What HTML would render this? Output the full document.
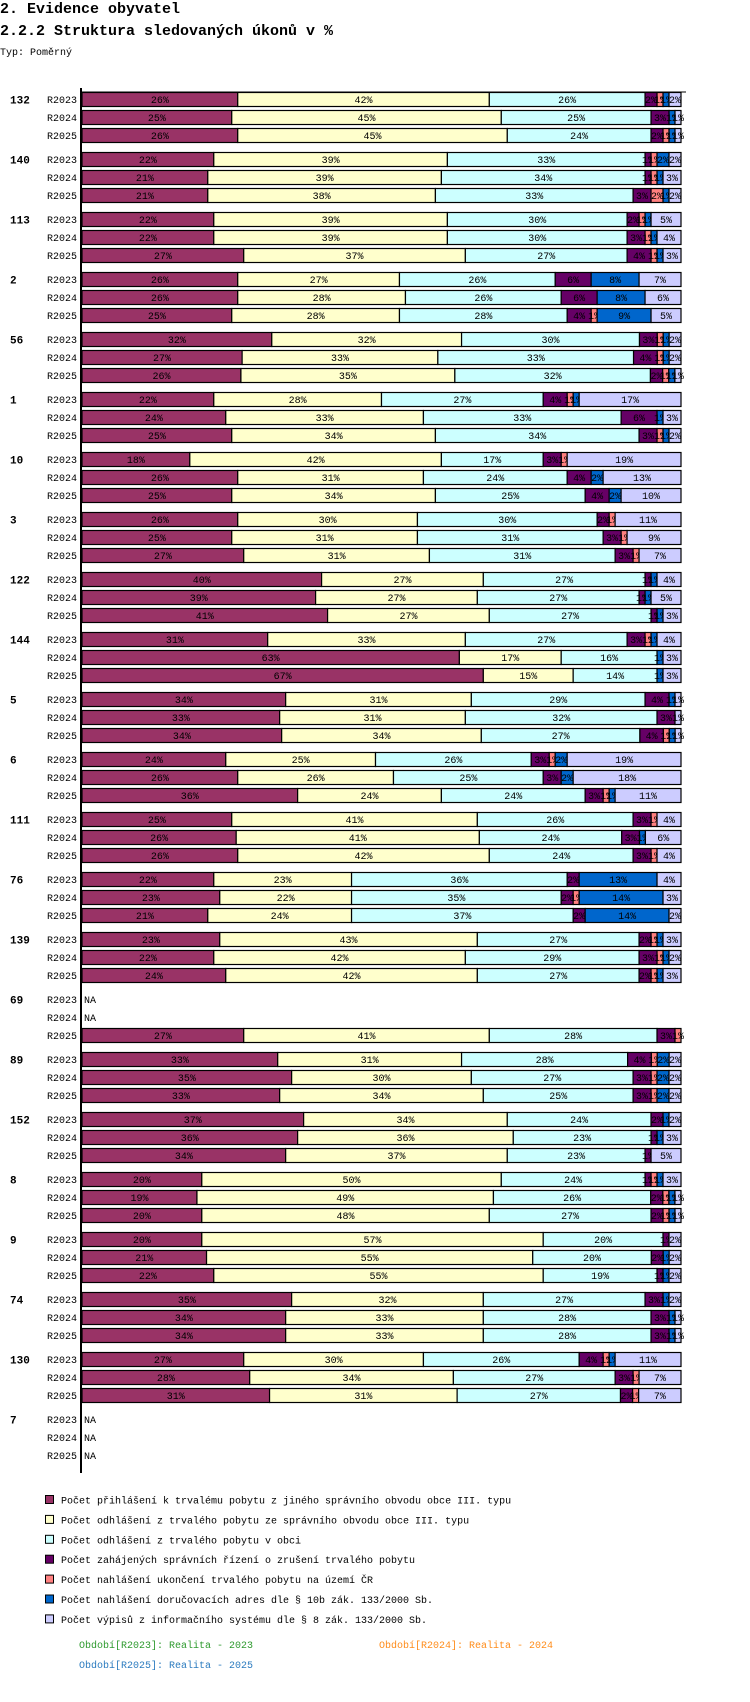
<!DOCTYPE html>
<html><head><meta charset="utf-8">
<style>
body{margin:0;background:#fff;width:750px;height:1702px;overflow:hidden;font-family:"Liberation Mono",monospace;}
svg{position:absolute;left:0;top:0}
</style></head>
<body>
<svg id="chart" width="750" height="1702">
<text x="0" y="13" font-size="15" font-weight="bold" font-family="Liberation Mono, monospace">2. Evidence obyvatel</text>
<text x="0" y="35" font-size="15" font-weight="bold" font-family="Liberation Mono, monospace">2.2.2 Struktura sledovaných úkonů v %</text>
<text x="0" y="55" font-size="10" font-family="Liberation Mono, monospace">Typ: Poměrný</text>
</svg>
<script>
const groups=["132","140","113","2","56","1","10","3","122","144","5","6","111","76","139","69","89","152","8","9","74","130","7"];
const periods=["R2023","R2024","R2025"];
const seriesNames=["Počet přihlášení k trvalému pobytu z jiného správního obvodu obce III. typu","Počet odhlášení z trvalého pobytu ze správního obvodu obce III. typu","Počet odhlášení z trvalého pobytu v obci","Počet zahájených správních řízení o zrušení trvalého pobytu","Počet nahlášení ukončení trvalého pobytu na území ČR","Počet nahlášení doručovacích adres dle § 10b zák. 133/2000 Sb.","Počet výpisů z informačního systému dle § 8 zák. 133/2000 Sb."];
const seriesColors=["#993366","#ffffcc","#ccffff","#660066","#ff8080","#0066cc","#ccccff"];
const values=[
[[26,42,26,2,1,1,2],[25,45,25,3,0,1,1],[26,45,24,2,1,1,1]],
[[22,39,33,1,1,2,2],[21,39,34,1,1,1,3],[21,38,33,3,2,1,2]],
[[22,39,30,2,1,1,5],[22,39,30,3,1,1,4],[27,37,27,4,1,1,3]],
[[26,27,26,6,0,8,7],[26,28,26,6,0,8,6],[25,28,28,4,1,9,5]],
[[32,32,30,3,1,1,2],[27,33,33,4,1,1,2],[26,35,32,2,1,1,1]],
[[22,28,27,4,1,1,17],[24,33,33,6,0,1,3],[25,34,34,3,1,1,2]],
[[18,42,17,3,1,0,19],[26,31,24,4,0,2,13],[25,34,25,4,0,2,10]],
[[26,30,30,2,1,0,11],[25,31,31,3,1,0,9],[27,31,31,3,1,0,7]],
[[40,27,27,1,0,1,4],[39,27,27,1,0,1,5],[41,27,27,1,0,1,3]],
[[31,33,27,3,1,1,4],[63,17,16,0,0,1,3],[67,15,14,0,0,1,3]],
[[34,31,29,4,0,1,1],[33,31,32,3,0,0,1],[34,34,27,4,1,1,1]],
[[24,25,26,3,1,2,19],[26,26,25,3,0,2,18],[36,24,24,3,1,1,11]],
[[25,41,26,3,1,0,4],[26,41,24,3,0,1,6],[26,42,24,3,1,0,4]],
[[22,23,36,2,0,13,4],[23,22,35,2,1,14,3],[21,24,37,2,0,14,2]],
[[23,43,27,2,1,1,3],[22,42,29,3,1,1,2],[24,42,27,2,1,1,3]],
[null,null,[27,41,28,3,1,0,0]],
[[33,31,28,4,1,2,2],[35,30,27,3,1,2,2],[33,34,25,3,1,2,2]],
[[37,34,24,2,0,1,2],[36,36,23,1,0,1,3],[34,37,23,1,0,0,5]],
[[20,50,24,1,1,1,3],[19,49,26,2,1,1,1],[20,48,27,2,1,1,1]],
[[20,57,20,1,0,0,2],[21,55,20,2,0,1,2],[22,55,19,1,0,1,2]],
[[35,32,27,3,0,1,2],[34,33,28,3,0,1,1],[34,33,28,3,0,1,1]],
[[27,30,26,4,1,1,11],[28,34,27,3,1,0,7],[31,31,27,2,1,0,7]],
[null,null,null]
];
const periodLegend=["Období[R2023]: Realita - 2023","Období[R2024]: Realita - 2024","Období[R2025]: Realita - 2025"];
const periodColors=["#2e9a2e","#ff8c1a","#2b7bbf"];

const svg=document.getElementById('chart');
const NS="http://www.w3.org/2000/svg";
const X0=82,X1=681,TOP=92,GP=60,BP=18,BH=15;
function xScale(frac){return X0+frac*(X1-X0);}
function yBar(g,k){return TOP+g*GP+k*BP;}
function mk(tag,attrs){const e=document.createElementNS(NS,tag);for(const k in attrs)e.setAttribute(k,attrs[k]);svg.appendChild(e);return e;}
function txt(x,y,s,size,anchor,extra){const t=mk('text',Object.assign({x:x,y:y,'font-size':size,'font-family':'Liberation Mono, monospace','text-anchor':anchor||'start'},extra||{}));t.textContent=s;return t;}

groups.forEach((gname,g)=>{
  const gl=txt(10,yBar(g,0)+11.5,gname,11,'start',{'font-weight':'bold'});
  
  
  periods.forEach((p,k)=>{
    const y=yBar(g,k);
    const pl=txt(77,y+11,p,10,'end');
    
    
    const row=values[g][k];
    if(!row){
      const na=txt(84,y+11,'NA',10,'start');
      
      
      return;
    }
    const tot=row.reduce((a,b)=>a+b,0);
    let cum=0;
    row.forEach((v,s)=>{
      if(v<=0)return;
      const xa=xScale(cum/tot),xb=xScale((cum+v)/tot);
      cum+=v;
      const r=mk('rect',{x:xa,y:y+0.5,width:xb-xa,height:BH-1,fill:seriesColors[s],stroke:'#000','stroke-width':1.2});
      
      
      const lt=txt((xa+xb)/2,y+11,v+'%',10,'middle');
      
      
    });
  });
});
const ax=mk('line',{x1:81,y1:88,x2:81,y2:1473,stroke:'#000','stroke-width':2});


const tl=mk('line',{x1:81,y1:92,x2:686,y2:92,stroke:'#000','stroke-width':1});



seriesNames.forEach((n,s)=>{
  const y=1500+s*19.9;
  const sq=mk('rect',{x:45.5,y:y-4.5,width:8,height:8,fill:seriesColors[s],stroke:'#000','stroke-width':1});
  
  
  const t=txt(61,y+3.5,n,10,'start');
  
  
});
const pxs=[79,379,79],pys=[1648,1648,1668];
periodLegend.forEach((n,i)=>{
  const t=txt(pxs[i],pys[i],n,10,'start',{fill:periodColors[i]});
  
  
});
</script>
</body></html>
